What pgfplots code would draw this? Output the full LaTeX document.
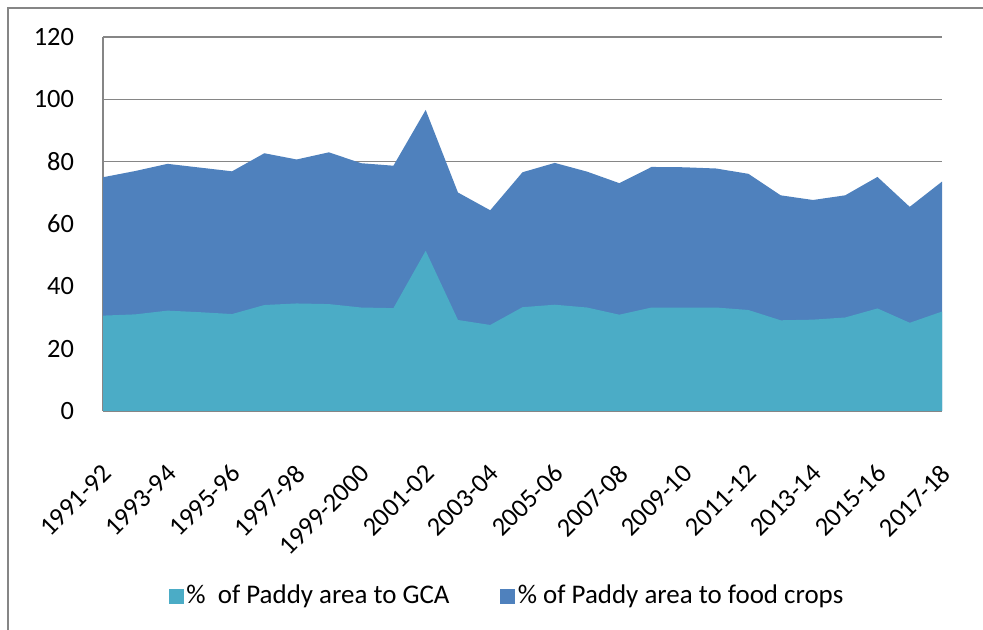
\documentclass[border=0pt]{standalone}
\usepackage{fontspec}
\setmainfont{Carlito}
\usepackage{pgfplots}
\pgfplotsset{compat=1.18}

\definecolor{gcacol}{HTML}{4BACC6}
\definecolor{foodcol}{HTML}{4F81BD}
\definecolor{gridcol}{HTML}{868686}

\pgfplotstableread{
x  food  gca
0  75.0  30.6
1  77.0  31.0
2  79.3  32.2
3  78.1  31.7
4  76.9  31.1
5  82.7  34.0
6  80.7  34.5
7  83.0  34.3
8  79.5  33.2
9  78.7  33.0
10 96.6  51.4
11 70.1  29.2
12 64.4  27.6
13 76.6  33.3
14 79.6  34.1
15 76.8  33.2
16 73.1  30.9
17 78.3  33.2
18 78.2  33.2
19 77.8  33.2
20 76.1  32.4
21 69.2  29.1
22 67.7  29.3
23 69.2  30.0
24 75.1  32.9
25 65.5  28.3
26 73.6  31.9
}\paddy

\begin{document}
\fontsize{19.8}{23}\selectfont
\begin{tikzpicture}
\useasboundingbox (0,0) rectangle (737.25pt,472.5pt);
% outer chart frame (only left and top edges are visible)
\draw[gridcol, line width=1.1pt] (6pt,0) -- (6pt,466.5pt) -- (737.25pt,466.5pt);

\begin{axis}[
    at={(77.25pt,164.25pt)},
    anchor=south west,
    scale only axis,
    width=629.25pt,
    height=280.5pt,
    xmin=0, xmax=26,
    ymin=0, ymax=120,
    ytick={0,20,...,120},
    xtick={0,2,...,26},
    xticklabels={1991-92,1993-94,1995-96,1997-98,1999-2000,2001-02,2003-04,2005-06,2007-08,2009-10,2011-12,2013-14,2015-16,2017-18},
    axis x line*=bottom,
    axis y line*=left,
    axis line style={gridcol, line width=1.5pt, -},
    major tick length=0pt,
    ymajorgrids,
    grid style={gridcol, line width=1.1pt},
    tick label style={font=\fontsize{19.8}{23}\selectfont},
    /pgf/number format/assume math mode=true,
    yticklabel style={anchor=east, xshift=-15pt},
    xticklabel style={rotate=45, anchor=east, yshift=-33pt, xshift=-22pt},
    reverse legend,
    legend columns=2,
    legend style={
        at={(0.482,-0.495)}, anchor=center,
        draw=none, fill=none,
        font=\fontsize{20.2}{23}\selectfont,
        /tikz/every even column/.append style={column sep=36pt},
    },
    legend image code/.code={\fill[#1] (-4pt,-5.6pt) rectangle (7.25pt,5.6pt);},
]
\addplot[fill=foodcol, draw=none] table[x=x, y=food] {\paddy} \closedcycle;
\addlegendentry{\% of Paddy area to food crops}
\addplot[fill=gcacol, draw=none] table[x=x, y=gca] {\paddy} \closedcycle;
\addlegendentry{\%\ \ of Paddy area to GCA}
\end{axis}
\end{tikzpicture}
\end{document}
